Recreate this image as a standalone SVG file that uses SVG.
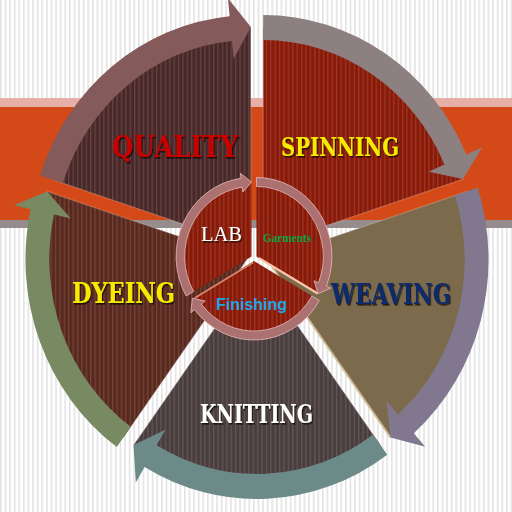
<svg xmlns="http://www.w3.org/2000/svg" width="512" height="512" viewBox="0 0 512 512">
<defs>
  <pattern id="bg" width="4.6" height="10" patternUnits="userSpaceOnUse">
    <rect width="4.6" height="10" fill="#ffffff"/>
    <rect width="1.6" height="10" fill="#e3e3e3"/>
  </pattern>
  <pattern id="st" width="4.6" height="10" patternUnits="userSpaceOnUse">
    <rect width="1.3" height="10" fill="#ffffff" fill-opacity="0.13"/>
  </pattern>
  <filter id="ds" x="-10%" y="-30%" width="130%" height="170%">
    <feDropShadow dx="1.2" dy="1.6" stdDeviation="0.6" flood-color="#000" flood-opacity="0.7"/>
  </filter>
</defs>
<style>
  .big{font-family:"DejaVu Serif","Liberation Serif",serif;font-weight:bold}
  .sec{stroke:#ffffff;stroke-opacity:0.18;stroke-width:1.5}
  .ring{stroke:#e6bcbc;stroke-width:0.8}
  .arr{stroke:none}
</style>
<rect width="512" height="512" fill="url(#bg)"/>
<g id="band">
  <rect x="0" y="98" width="512" height="9" fill="#e8aea8"/>
  <rect x="0" y="107" width="512" height="113" fill="#d34a18"/>
  <rect x="0" y="220" width="512" height="8" fill="#968c8e"/>
</g>

<g id="quality">
  <g transform="matrix(0.955 0 0 1 257 256)">
    <path class="sec" d="M-6.47,-8.9 L-215.7,-76.88 A220,220 0 0 1 -6.47,-228.9 Z" fill="#4a2828"/>
    <path d="M-6.47,-8.9 L-215.7,-76.88 A220,220 0 0 1 -6.47,-228.9 Z" fill="url(#st)"/>
  </g>
  <text class="big" x="112" y="157" font-size="30" textLength="126" lengthAdjust="spacingAndGlyphs" fill="#c80000" filter="url(#ds)">QUALITY</text>
</g>
<g id="spinning">
  <g transform="matrix(0.955 0 0 1 257 256)">
    <path class="sec" d="M6.47,-8.9 L6.47,-228.9 A220,220 0 0 1 215.7,-76.88 Z" fill="#8a1a08"/>
    <path d="M6.47,-8.9 L6.47,-228.9 A220,220 0 0 1 215.7,-76.88 Z" fill="url(#st)"/>
  </g>
  <text class="big" x="281" y="156" font-size="26" textLength="118" lengthAdjust="spacingAndGlyphs" fill="#f6ea00" filter="url(#ds)">SPINNING</text>
</g>
<g id="weaving">
  <g transform="matrix(0.955 0 0 1 257 256)">
    <path class="sec" d="M10.46,3.4 L219.69,-64.58 A220,220 0 0 1 139.77,181.38 Z" fill="#7b6a4c"/>
    <path d="M10.46,3.4 L139.77,181.38" stroke="#cdbb94" stroke-width="1.8" fill="none"/>
  </g>
  <text class="big" x="331" y="304" font-size="28" textLength="120" lengthAdjust="spacingAndGlyphs" fill="#0e2a6a" filter="url(#ds)">WEAVING</text>
</g>
<g id="knitting">
  <g transform="matrix(0.955 0 0 1 257 256)">
    <path class="sec" d="M0,11 L129.31,188.98 A220,220 0 0 1 -129.31,188.98 Z" fill="#4a3d3d"/>
    <path d="M0,11 L129.31,188.98 A220,220 0 0 1 -129.31,188.98 Z" fill="url(#st)"/>
  </g>
  <text class="big" x="200" y="423" font-size="26" textLength="113" lengthAdjust="spacingAndGlyphs" fill="#ffffff" filter="url(#ds)">KNITTING</text>
</g>
<g id="dyeing">
  <g transform="matrix(0.955 0 0 1 257 256)">
    <path class="sec" d="M-10.46,3.4 L-139.77,181.38 A220,220 0 0 1 -219.69,-64.58 Z" fill="#5a291e"/>
    <path d="M-10.46,3.4 L-139.77,181.38 A220,220 0 0 1 -219.69,-64.58 Z" fill="url(#st)"/>
  </g>
  <text class="big" x="72" y="303" font-size="28" textLength="103" lengthAdjust="spacingAndGlyphs" fill="#f6ea00" filter="url(#ds)">DYEING</text>
</g>

<g id="connectors" transform="matrix(0.955 0 0 1 257 256)">
  <path class="arr" fill="#8d8080" d="M6.47,-240.9 A232,232 0 0 1 219.23,-101.41 L235.73,-108.59 L215.7,-76.88 L179.79,-84.26 L196.3,-91.44 A207,207 0 0 0 6.47,-215.9 Z"/>
  <path class="arr" fill="#817890" d="M231.11,-68.29 A232,232 0 0 1 164.19,177.16 L176.12,190.64 L139.77,181.38 L135.7,144.95 L147.62,158.43 A207,207 0 0 0 207.33,-60.57 Z"/>
  <path class="arr" fill="#6b8a88" d="M136.37,198.69 A232,232 0 0 1 -117.75,210.9 L-126.89,226.41 L-129.31,188.98 L-95.93,173.85 L-105.06,189.36 A207,207 0 0 0 121.67,178.47 Z"/>
  <path class="arr" fill="#788a62" d="M-146.83,191.09 A232,232 0 0 1 -236.96,-46.81 L-254.54,-50.71 L-219.69,-64.58 L-194.98,-37.51 L-212.55,-41.4 A207,207 0 0 0 -132.13,170.87 Z"/>
  <path class="arr" fill="#855a5a" d="M-227.12,-80.59 A232,232 0 0 1 -28.71,-239.83 L-30.43,-257.75 L-6.47,-228.9 L-24.58,-197.03 L-26.31,-214.95 A207,207 0 0 0 -203.34,-72.87 Z"/>
</g>

<g id="lab">
  <g transform="matrix(0.955 0 0 1 254 258)">
    <path d="M-2.6,-1.5 L-66.69,35.5 A74,74 0 0 1 -2.6,-75.5 Z" fill="#8a1a08"/>
    <path d="M-2.6,-1.5 L-66.69,35.5 A74,74 0 0 1 -2.6,-75.5 Z" fill="url(#st)"/>
    <path class="ring" fill="#ab7070" d="M-71.02,38 A79,79 0 0 1 -13.59,-79.73 L-14.29,-84.68 L-2.6,-76 L-11.65,-65.87 L-12.34,-70.82 A70,70 0 0 0 -63.22,33.5 Z"/>
  </g>
  <text x="201" y="241" font-family="'Liberation Serif',serif" font-size="20" textLength="41" lengthAdjust="spacingAndGlyphs" fill="#ffffff" filter="url(#ds)">LAB</text>
</g>
<g id="garments">
  <g transform="matrix(0.955 0 0 1 254 258)">
    <path d="M2.6,-1.5 L2.6,-75.5 A74,74 0 0 1 66.69,35.5 Z" fill="#8a1a08"/>
    <path d="M2.6,-1.5 L2.6,-75.5 A74,74 0 0 1 66.69,35.5 Z" fill="url(#st)"/>
    <path d="M5,0 L66.69,35.5" stroke="#ffc4ac" stroke-width="2.2" fill="none"/>
    <path class="ring" fill="#ab7070" d="M2.6,-80.5 A79,79 0 0 1 75.85,28.09 L80.48,29.97 L67.12,35.75 L62.87,22.85 L67.5,24.72 A70,70 0 0 0 2.6,-71.5 Z"/>
  </g>
  <text x="263" y="242" font-family="'Liberation Serif',serif" font-weight="bold" font-size="12" textLength="48" lengthAdjust="spacingAndGlyphs" fill="#0aa040">Garments</text>
</g>
<g id="finishing">
  <g transform="matrix(0.955 0 0 1 254 258)">
    <path d="M0,3 L64.09,40 A74,74 0 0 1 -64.09,40 Z" fill="#8a1a08"/>
    <path d="M0,3 L64.09,40 A74,74 0 0 1 -64.09,40 Z" fill="url(#st)"/>
    <path d="M-1,4.5 L-62,40" stroke="#d88a74" stroke-width="1.6" fill="none"/>
    <path class="ring" fill="#ab7070" d="M68.42,42.5 A79,79 0 0 1 -62.25,51.64 L-66.19,54.72 L-64.52,40.25 L-51.22,43.02 L-55.16,46.1 A70,70 0 0 0 60.62,38 Z"/>
  </g>
  <text x="216" y="310" font-family="'Liberation Sans',sans-serif" font-weight="bold" font-size="16" textLength="71" lengthAdjust="spacingAndGlyphs" fill="#1ea6ea">Finishing</text>
</g>
</svg>
